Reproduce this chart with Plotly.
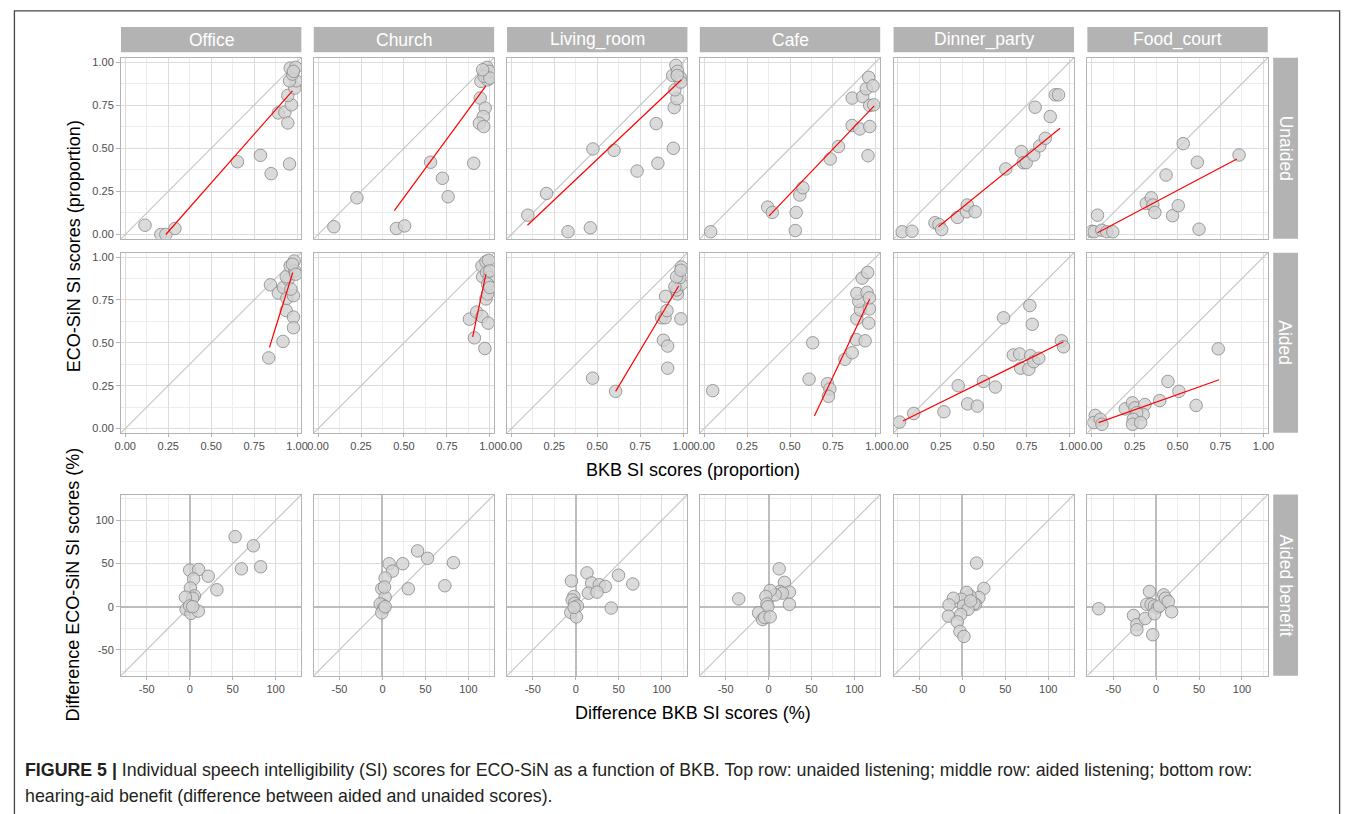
import plotly.graph_objects as go

W, H = 1358, 814
envs = ["Office", "Church", "Living_room", "Cafe", "Dinner_party", "Food_court"]
row_labels = ["Unaided", "Aided", "Aided benefit"]

# ---------------- data ----------------
unaided_bkb = {
    "Office": [0.115, 0.207, 0.236, 0.289, 0.653, 0.787, 0.849, 0.891, 0.929, 0.946, 0.956, 0.967, 0.946, 0.987, 0.994, 0.956, 0.973, 0.960, 0.992, 0.979],
    "Church": [0.092, 0.226, 0.456, 0.504, 0.655, 0.724, 0.757, 0.906, 0.944, 0.973, 0.962, 0.939, 0.964, 0.948, 0.987, 0.967, 0.983, 0.996, 0.967, 1.0, 0.958],
    "Living_room": [0.096, 0.205, 0.330, 0.460, 0.475, 0.598, 0.732, 0.843, 0.853, 0.943, 0.948, 0.964, 0.952, 0.939, 0.958, 0.967, 0.983, 0.987, 0.966],
    "Cafe": [0.038, 0.370, 0.397, 0.531, 0.536, 0.557, 0.575, 0.734, 0.782, 0.862, 0.906, 0.964, 0.954, 0.862, 0.923, 0.944, 0.958, 0.983, 0.964, 0.987],
    "Dinner_party": [0.025, 0.082, 0.216, 0.239, 0.255, 0.347, 0.400, 0.404, 0.450, 0.628, 0.718, 0.730, 0.747, 0.791, 0.826, 0.858, 0.887, 0.799, 0.916, 0.935],
    "Food_court": [0.002, 0.015, 0.034, 0.059, 0.088, 0.123, 0.318, 0.347, 0.356, 0.368, 0.433, 0.471, 0.504, 0.533, 0.615, 0.625, 0.858],
}
unaided_eco = {
    "Office": [0.054, 0.0, 0.0, 0.035, 0.422, 0.459, 0.353, 0.705, 0.709, 0.647, 0.409, 0.752, 0.806, 0.849, 0.891, 0.891, 0.930, 0.965, 0.969, 0.946],
    "Church": [0.045, 0.213, 0.035, 0.050, 0.419, 0.326, 0.219, 0.413, 0.791, 0.733, 0.684, 0.645, 0.626, 0.888, 0.897, 0.936, 0.969, 0.946, 0.917, 0.907, 0.955],
    "Living_room": [0.112, 0.238, 0.016, 0.039, 0.496, 0.488, 0.368, 0.643, 0.413, 0.500, 0.736, 0.787, 0.839, 0.922, 0.981, 0.946, 0.911, 0.884, 0.922],
    "Cafe": [0.016, 0.159, 0.128, 0.023, 0.128, 0.229, 0.271, 0.438, 0.510, 0.632, 0.612, 0.626, 0.457, 0.791, 0.800, 0.845, 0.911, 0.862, 0.748, 0.752],
    "Dinner_party": [0.016, 0.019, 0.068, 0.058, 0.029, 0.099, 0.132, 0.171, 0.132, 0.380, 0.481, 0.417, 0.417, 0.461, 0.514, 0.558, 0.684, 0.738, 0.810, 0.810],
    "Food_court": [0.019, 0.016, 0.112, 0.025, 0.016, 0.016, 0.180, 0.213, 0.171, 0.128, 0.345, 0.109, 0.167, 0.527, 0.419, 0.031, 0.461],
}
unaided_fit = {  # (bkb endpoints, eco endpoints) of the linear fit
    "Office": ([0.236, 0.973], [0.0, 0.833]),
    "Church": ([0.444, 0.977], [0.138, 0.862]),
    "Living_room": ([0.094, 0.990], [0.054, 0.897]),
    "Cafe": ([0.377, 0.990], [0.107, 0.746]),
    "Dinner_party": ([0.236, 0.944], [0.045, 0.616]),
    "Food_court": ([0.034, 0.845], [0.010, 0.438]),
}

aided_bkb = {
    "Office": [0.835, 0.918, 0.845, 0.891, 0.921, 0.937, 0.941, 0.979, 0.979, 0.979, 0.948, 0.937, 0.960, 0.983, 0.987, 0.964, 0.973, 0.992],
    "Church": [0.881, 0.910, 0.923, 0.954, 0.971, 0.990, 0.977, 0.987, 0.958, 0.954, 0.977, 0.992, 0.981, 0.996, 0.987, 1.0, 1.0],
    "Living_room": [0.473, 0.607, 0.885, 0.910, 0.910, 0.875, 0.895, 0.906, 0.987, 0.898, 0.967, 0.962, 0.990, 0.952, 0.981, 0.962, 0.990, 0.987],
    "Cafe": [0.050, 0.632, 0.611, 0.718, 0.732, 0.724, 0.820, 0.862, 0.885, 0.937, 0.889, 0.958, 0.910, 0.962, 0.900, 0.889, 0.948, 0.962, 0.920, 0.952],
    "Dinner_party": [0.010, 0.092, 0.268, 0.351, 0.406, 0.462, 0.498, 0.567, 0.615, 0.672, 0.709, 0.715, 0.762, 0.768, 0.782, 0.772, 0.791, 0.820, 0.952, 0.964],
    "Food_court": [0.021, 0.012, 0.050, 0.060, 0.196, 0.237, 0.252, 0.310, 0.300, 0.262, 0.242, 0.238, 0.285, 0.396, 0.444, 0.508, 0.608, 0.737],
}
aided_eco = {
    "Office": [0.412, 0.508, 0.838, 0.790, 0.823, 0.688, 0.760, 0.650, 0.588, 0.775, 0.871, 0.885, 0.948, 0.977, 0.919, 0.813, 0.958, 0.900],
    "Church": [0.638, 0.529, 0.679, 0.654, 0.467, 0.615, 0.756, 0.785, 0.885, 0.948, 0.973, 0.981, 0.910, 0.881, 0.842, 0.823, 0.919],
    "Living_room": [0.294, 0.217, 0.515, 0.481, 0.352, 0.646, 0.646, 0.688, 0.640, 0.771, 0.785, 0.808, 0.842, 0.827, 0.881, 0.885, 0.942, 0.923],
    "Cafe": [0.221, 0.500, 0.288, 0.262, 0.231, 0.188, 0.404, 0.442, 0.519, 0.512, 0.640, 0.615, 0.692, 0.698, 0.742, 0.788, 0.794, 0.762, 0.877, 0.910],
    "Dinner_party": [0.038, 0.088, 0.098, 0.250, 0.144, 0.131, 0.275, 0.242, 0.646, 0.429, 0.435, 0.352, 0.346, 0.717, 0.608, 0.425, 0.390, 0.410, 0.512, 0.477],
    "Food_court": [0.077, 0.035, 0.054, 0.025, 0.115, 0.150, 0.121, 0.140, 0.083, 0.092, 0.054, 0.025, 0.035, 0.163, 0.275, 0.217, 0.135, 0.465],
}
aided_fit = {
    "Office": ([0.839, 0.975], [0.473, 0.910]),
    "Church": ([0.900, 0.977], [0.535, 0.900]),
    "Living_room": ([0.607, 0.975], [0.217, 0.833]),
    "Cafe": ([0.642, 0.964], [0.073, 0.756]),
    "Dinner_party": ([0.029, 0.964], [0.044, 0.506]),
    "Food_court": ([0.040, 0.742], [0.035, 0.285]),
}

benefit_bkb = {
    "Office": [52.9, 74.1, 60.2, 82.6, 0.0, 10.4, 4.6, 21.6, 31.7, 0.8, 5.4, 3.5, -5.0, -4.2, 1.5, 10.0, 0.0, 3.5],
    "Church": [40.9, 52.5, 82.6, 72.6, 30.1, 23.6, 7.7, 11.6, 3.1, -0.8, 3.1, 0.0, -2.7, 1.2, -0.8, 3.1, 2.3],
    "Living_room": [13.1, -5.0, 18.5, 49.8, 66.4, 27.4, 34.4, 14.7, 24.7, 41.3, -2.3, -4.2, -1.2, 1.9, -5.8, 0.8, -1.9],
    "Cafe": [-34.7, 12.4, 18.5, 24.3, 24.3, 13.5, 16.2, 7.7, 1.9, -3.1, -1.9, -0.8, -11.6, -6.9, -4.6, 1.9],
    "Dinner_party": [16.6, 25.1, 19.3, 15.4, 13.5, 8.9, 5.0, -1.2, -10.4, -15.4, 1.2, 6.6, -1.9, -16.2, -5.8, -2.7, 1.9, 9.7],
    "Food_court": [-66.8, -26.3, -22.4, -22.4, -12.7, -7.7, -10.8, -5.8, -1.9, 1.9, -1.9, 3.9, 8.9, 10.8, 14.3, 18.1, -3.9],
}
benefit_eco = {
    "Office": [81.2, 70.6, 43.9, 46.3, 42.4, 43.1, 32.2, 35.3, 19.6, 21.6, 12.5, 9.8, 11.0, -3.1, -7.8, -5.1, 0.8, 0.0],
    "Church": [64.7, 56.1, 51.0, 24.3, 20.8, 49.8, 49.8, 41.2, 33.3, 20.8, 11.0, 2.0, 3.1, -2.0, -7.1, 0.0, 22.7],
    "Living_room": [39.2, 29.8, 27.5, 36.5, 26.3, 25.5, 23.5, 15.7, 16.9, -1.6, 11.8, 7.8, 3.9, 0.8, -6.7, -11.8, -0.8],
    "Cafe": [9.0, 43.9, 28.2, 16.9, 2.7, 17.6, 15.7, 13.7, 18.8, 11.8, 3.1, 0.0, -7.1, -14.9, -12.5, -11.8],
    "Dinner_party": [50.6, 21.2, 10.6, 2.7, 3.5, 12.5, 16.5, 8.6, 9.8, 2.0, 0.8, -3.1, -9.0, -11.0, -17.6, -28.6, -34.5, 6.7],
    "Food_court": [-2.4, -10.2, -20.8, -26.7, -13.7, 17.6, 2.7, 2.7, 0.8, -1.2, -8.2, 0.8, 13.7, 9.8, 5.9, -5.9, -32.5],
}

prop_ticks = [0.0, 0.25, 0.5, 0.75, 1.0]
prop_ticktext = ["0.00", "0.25", "0.50", "0.75", "1.00"]
pct_ticks = [-50, 0, 50, 100]
prop_range = [-0.025, 1.025]
pct_range = [-80, 130]

caption_bold = "FIGURE 5 |"
caption_line1 = " Individual speech intelligibility (SI) scores for ECO-SiN as a function of BKB. Top row: unaided listening; middle row: aided listening; bottom row:"
caption_line2 = "hearing-aid benefit (difference between aided and unaided scores)."

# ---------------- layout geometry (pixels) ----------------
col_left = [116, 310.5, 505.5, 700, 895.5, 1091]
pw = 182
row_top = [56, 252, 495]
ph = [182, 181, 182]

FONT = "Liberation Sans, Arial, Helvetica, sans-serif"
GRID = "#dcdcdc"
MINOR = "#ececec"
BORDER = "#b3b3b3"
TICKFONT = dict(family=FONT, size=11, color="#4d4d4d")

fig = go.Figure()
layout = {}
shapes = []
annotations = []

rows_data = [(unaided_bkb, unaided_eco, unaided_fit),
             (aided_bkb, aided_eco, aided_fit),
             (benefit_bkb, benefit_eco, None)]

def px_x(x):
    return x / W

def px_y(y):
    return 1 - y / H

for r in range(3):
    xs_d, ys_d, fit_d = rows_data[r]
    rng = prop_range if r < 2 else pct_range
    for c, env in enumerate(envs):
        i = r * 6 + c + 1
        sx = "" if i == 1 else str(i)
        xref, yref = "x" + sx, "y" + sx
        xdom = [px_x(col_left[c]), px_x(col_left[c] + pw)]
        ydom = [px_y(row_top[r] + ph[r]), px_y(row_top[r])]
        if r < 2:
            tick_kw = dict(tickmode="array", tickvals=prop_ticks, ticktext=prop_ticktext,
                           minor=dict(showgrid=True, gridcolor=MINOR, gridwidth=0.8,
                                      tickvals=[-0.125 + 0.25 * k for k in range(6)], ticks=""))
        else:
            tick_kw = dict(tickmode="array", tickvals=pct_ticks,
                           ticktext=[str(v) for v in pct_ticks],
                           minor=dict(showgrid=True, gridcolor=MINOR, gridwidth=0.8,
                                      tickvals=[-75, -25, 25, 75, 125], ticks=""))
        show_x = r >= 1
        layout["xaxis" + sx] = dict(
            domain=xdom, anchor=yref, range=rng, showgrid=True, gridcolor=GRID, gridwidth=1,
            showline=True, linecolor=BORDER, linewidth=1, mirror=True,
            zeroline=(r == 2), zerolinecolor="#bdbdbd", zerolinewidth=1.6,
            ticks="outside" if show_x else "", ticklen=3, tickcolor=BORDER,
            showticklabels=show_x, tickfont=TICKFONT, fixedrange=True, **tick_kw)
        show_y = c == 0
        layout["yaxis" + sx] = dict(
            domain=ydom, anchor=xref, range=rng, showgrid=True, gridcolor=GRID, gridwidth=1,
            showline=True, linecolor=BORDER, linewidth=1, mirror=True,
            zeroline=(r == 2), zerolinecolor="#bdbdbd", zerolinewidth=1.6,
            ticks="outside" if show_y else "", ticklen=4, tickcolor=BORDER,
            showticklabels=show_y, tickfont=TICKFONT, fixedrange=True, **tick_kw)

        # identity line y = x across the panel
        fig.add_trace(go.Scatter(x=rng, y=rng, mode="lines", xaxis=xref, yaxis=yref,
                                 line=dict(color="#c4c4c4", width=1.1),
                                 hoverinfo="skip", showlegend=False, cliponaxis=True))
        # points
        fig.add_trace(go.Scatter(x=xs_d[env], y=ys_d[env], mode="markers", xaxis=xref, yaxis=yref,
                                 marker=dict(size=12.5, color="rgba(210,210,210,0.8)",
                                             line=dict(color="rgba(140,140,140,0.85)", width=1)),
                                 showlegend=False, cliponaxis=True))
        # linear fit
        if fit_d is not None:
            fx, fy = fit_d[env]
            fig.add_trace(go.Scatter(x=fx, y=fy, mode="lines", xaxis=xref, yaxis=yref,
                                     line=dict(color="#ff0000", width=1.2),
                                     hoverinfo="skip", showlegend=False))

# column strips
for c, env in enumerate(envs):
    shapes.append(dict(type="rect", xref="paper", yref="paper",
                       x0=px_x(col_left[c]), x1=px_x(col_left[c] + pw),
                       y0=px_y(50.5), y1=px_y(25), fillcolor="#b3b3b3", line=dict(width=0)))
    annotations.append(dict(x=px_x(col_left[c] + pw / 2), y=px_y(38), xref="paper", yref="paper",
                            text=env, showarrow=False, xanchor="center", yanchor="middle",
                            font=dict(family=FONT, size=17.5, color="white")))

# row strips
for r, lab in enumerate(row_labels):
    shapes.append(dict(type="rect", xref="paper", yref="paper",
                       x0=px_x(1278.5), x1=px_x(1303.5),
                       y0=px_y(row_top[r] + ph[r]), y1=px_y(row_top[r]),
                       fillcolor="#b3b3b3", line=dict(width=0)))
    annotations.append(dict(x=px_x(1291), y=px_y(row_top[r] + ph[r] / 2), xref="paper", yref="paper",
                            text=lab, showarrow=False, textangle=90, xanchor="center", yanchor="middle",
                            font=dict(family=FONT, size=17.5, color="white")))

# axis titles
title_font = dict(family=FONT, size=18, color="#000000")
annotations += [
    dict(x=px_x(68), y=px_y(245), xref="paper", yref="paper", text="ECO-SiN SI scores (proportion)",
         showarrow=False, textangle=-90, font=title_font, xanchor="center", yanchor="middle"),
    dict(x=px_x(693), y=px_y(470), xref="paper", yref="paper", text="BKB SI scores (proportion)",
         showarrow=False, font=title_font, xanchor="center", yanchor="middle"),
    dict(x=px_x(68), y=px_y(585), xref="paper", yref="paper", text="Difference ECO-SiN SI scores (%)",
         showarrow=False, textangle=-90, font=title_font, xanchor="center", yanchor="middle"),
    dict(x=px_x(693), y=px_y(715), xref="paper", yref="paper", text="Difference BKB SI scores (%)",
         showarrow=False, font=title_font, xanchor="center", yanchor="middle"),
]

# caption
cap_font = dict(family=FONT, size=17.8, color="#231f20")
annotations += [
    dict(x=px_x(17), y=px_y(772), xref="paper", yref="paper",
         text="<b>" + caption_bold + "</b>" + caption_line1,
         showarrow=False, xanchor="left", yanchor="middle", font=cap_font),
    dict(x=px_x(17), y=px_y(798), xref="paper", yref="paper", text=caption_line2,
         showarrow=False, xanchor="left", yanchor="middle", font=cap_font),
]

# outer frame
shapes.append(dict(type="rect", xref="paper", yref="paper", x0=px_x(8.5), x1=px_x(1345.5),
                   y0=-0.05, y1=px_y(9), line=dict(color="#444444", width=1.3), layer="above"))

fig.update_layout(**layout)
fig.update_layout(width=W, height=H, margin=dict(l=0, r=0, t=0, b=0),
                  paper_bgcolor="white", plot_bgcolor="white",
                  shapes=shapes, annotations=annotations, showlegend=False,
                  font=dict(family=FONT))

fig.write_html("out.html")
